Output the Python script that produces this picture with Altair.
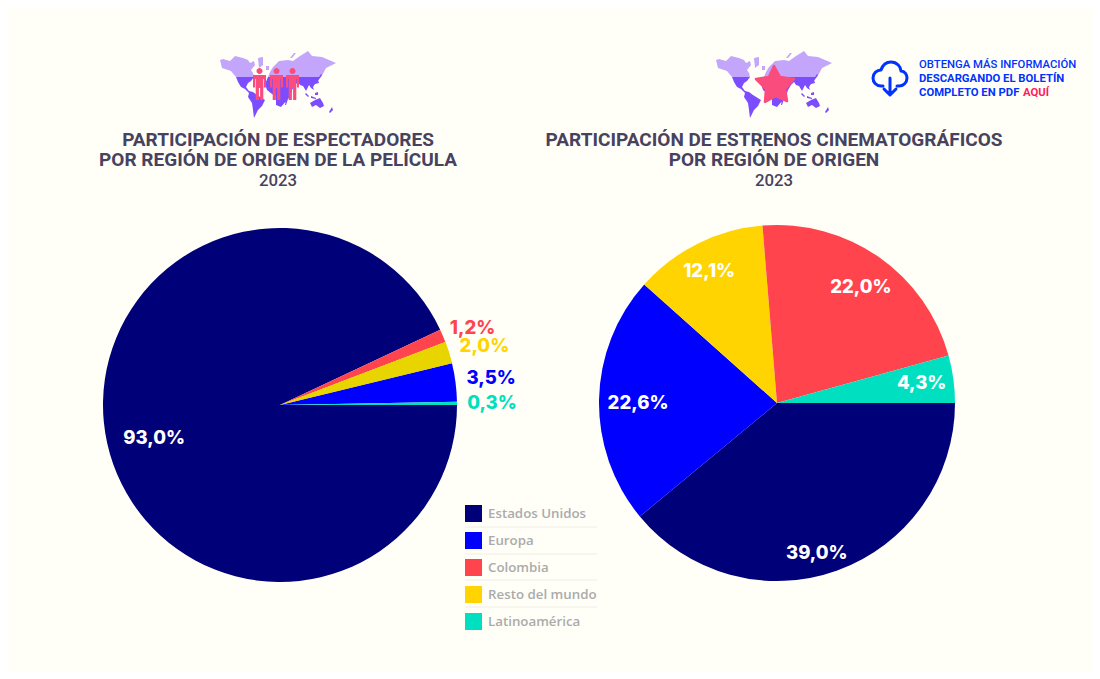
import math
import altair as alt
import pandas as pd

BG = "#FFFFF7"
TITLE = "#464260"
BLUE = "#0033FF"
PINK = "#FB4C7E"
LIGHT = "#C3A5FB"
PURPLE = "#7C4DFF"
M = 8  # page margin: every layout position below is a page pixel

categories = ["Estados Unidos", "Europa", "Colombia", "Resto del mundo", "Latinoamérica"]
colors = ["#000078", "#0000FF", "#FF444D", "#FFD400", "#00E0C0"]

# clockwise from three o'clock
left_order = ["Estados Unidos", "Colombia", "Resto del mundo", "Europa", "Latinoamérica"]
left_values = [93.0, 1.2, 2.0, 3.5, 0.3]
right_order = ["Estados Unidos", "Europa", "Resto del mundo", "Colombia", "Latinoamérica"]
right_values = [39.0, 22.6, 12.1, 22.0, 4.3]


def table(order, values):
    rows, run = [], 0.0
    for c, v in zip(order, values):
        rows.append({"cat": c, "value": v, "start": run, "end": run + v, "mid": run + v / 2,
                     "label": f"{v:.1f}".replace(".", ",") + "%"})
        run += v
    return pd.DataFrame(rows)


left = table(left_order, left_values)
right = table(right_order, right_values)

theta_scale = alt.Scale(domain=[0, 100], range=[math.pi / 2, math.pi / 2 + 2 * math.pi])
color_scale = alt.Scale(domain=categories, range=colors)
one = pd.DataFrame({"i": [0]})


def pie(df, cx, cy, r, legend=None):
    return alt.Chart(df).mark_arc(outerRadius=r, strokeWidth=0).encode(
        x=alt.value(cx - M), y=alt.value(cy - M),
        theta=alt.Theta("start:Q", scale=theta_scale),
        theta2="end:Q",
        color=alt.Color("cat:N", scale=color_scale, legend=legend),
    )


def pct(df, cat, cx, cy, radius, color, dx=0, dy=0):
    return alt.Chart(df[df.cat == cat]).mark_text(
        radius=radius, font="Inter", fontSize=18.5, fontWeight=800, color=color,
        dx=dx, dy=dy, align="center", baseline="middle",
    ).encode(
        x=alt.value(cx - M), y=alt.value(cy - M),
        theta=alt.Theta("mid:Q", scale=theta_scale),
        text="label:N",
    )


def txt(s, x, y, size, weight, color, align="center"):
    return alt.Chart(one).mark_text(
        text=s, font="Roboto", fontSize=size, fontWeight=weight, color=color,
        align=align, baseline="alphabetic",
    ).encode(x=alt.value(x - M), y=alt.value(y - M))


def icon(path, x, y, color, stroke=None, sw=0):
    kw = dict(shape=path, size=4, opacity=1)
    if stroke:
        kw.update(filled=False, stroke=stroke, strokeWidth=sw, strokeCap="round", strokeJoin="round")
    else:
        kw.update(filled=True, fill=color, stroke=color, strokeWidth=sw, strokeJoin="round")
    return alt.Chart(one).mark_point(**kw).encode(x=alt.value(x - M), y=alt.value(y - M))


def poly(points):
    return "M" + " L".join(f"{px - 278},{py - 85}" for px, py in points) + " Z"


map_light = [
    [(220, 60), (223, 59), (230, 61), (235, 56), (243, 58), (248, 60), (250, 63), (254, 61), (255, 65),
     (251, 70), (253, 73), (254, 77), (236, 77), (231, 71), (225, 69), (222, 68)],
    [(258, 58), (263, 57), (263, 65), (259, 68)],
    [(266, 66), (269, 66), (269, 70), (266, 70)],
    [(268, 77), (270, 72), (273, 67), (279, 61), (288, 60), (293, 61), (300, 56), (308, 51), (312, 56),
     (322, 57), (336, 63), (330, 66), (326, 68), (324, 72), (321, 77)],
    [(290, 58), (294, 53), (296, 53), (292, 58)],
]
map_dark = [
    [(236, 77), (254, 77), (251, 81), (248, 83), (246, 87), (249, 91), (253, 92), (257, 95), (265, 100),
     (262, 106), (258, 110), (254, 118), (253, 110), (252, 103), (248, 97), (249, 93), (245, 89), (241, 87),
     (238, 82)],
    [(268, 77), (321, 77), (318, 80), (319, 83), (315, 84), (313, 87), (314, 90), (311, 88), (309, 85),
     (306, 91), (303, 86), (300, 85), (298, 82), (295, 85), (292, 90), (290, 97), (287, 100), (281, 107),
     (276, 105), (276, 96), (272, 94), (267, 90), (265, 84)],
    [(306, 93), (309, 96), (308, 97), (305, 94)],
    [(311, 96), (316, 98), (316, 99), (311, 98)],
    [(315, 93), (318, 92), (318, 95), (315, 95)],
    [(310, 103), (315, 100), (320, 98), (323, 103), (324, 106), (320, 108), (316, 105), (312, 107)],
    [(329, 112), (332, 107), (333, 110), (330, 113)],
    [(321, 74), (322, 75), (318, 81), (317, 80)],
    [(286, 99), (288, 99), (286, 105), (285, 105)],
]
MAP_LIGHT = " ".join(poly(p) for p in map_light)
MAP_DARK = " ".join(poly(p) for p in map_dark)
PERSON = ("M-3,-1 A3,3 0 1 1 3,-1 A3,3 0 1 1 -3,-1 Z "
          "M-6.5,3 H6.5 V15.5 H4.4 V7 H3.8 V28 H0.6 V16 H-0.6 V28 H-3.8 V7 H-4.4 V15.5 H-6.5 Z")
STAR = "M0,-19 L6,-8 L20,-6 L11,4 L13,16 L2,11 L-9,17 L-8,4 L-18,-6 L-5,-8 Z"
CLOUD = ("M-7,8 H-9 C-14,8 -17,4 -17,0 C-17,-5 -13,-8 -9,-8 C-7,-14 -3,-16 1,-16 "
         "C7,-16 11,-11 11,-7 C15,-7 17,-3 17,0 C17,5 13,8 9,8 H7 M0,0 V16 M-6,11 L0,17 L6,11")

legend = alt.Legend(
    title=None, orient="none", legendX=465 - M, legendY=505 - M, symbolType="square", symbolSize=289,
    symbolStrokeWidth=0, symbolOpacity=1, labelFont="Open Sans", labelFontSize=13.3, labelFontWeight=600,
    labelColor="#ABABAB", labelOffset=6, rowPadding=10, labelLimit=200,
)

layers = [pie(left, 280, 405, 177, legend), pie(right, 777, 403, 178)]

# the yellow wedge of the left pie is a darker shade than the legend's
layers.append(alt.Chart(left[left.cat == "Resto del mundo"]).mark_arc(outerRadius=177, color="#E8D500").encode(
    x=alt.value(280 - M), y=alt.value(405 - M),
    theta=alt.Theta("start:Q", scale=theta_scale), theta2="end:Q"))

layers += [
    pct(left, "Estados Unidos", 280, 405, 130, "#FFFFFF", dx=1, dy=5),
    pct(left, "Colombia", 280, 405, 207, "#FF444D", dx=2, dy=4),
    pct(left, "Resto del mundo", 280, 405, 213, "#FFD400", dx=1, dy=4),
    pct(left, "Europa", 280, 405, 213, "#0000FF"),
    pct(left, "Latinoamérica", 280, 405, 212, "#00E0C0"),
    pct(right, "Estados Unidos", 777, 403, 153, "#FFFFFF", dx=-12, dy=6),
    pct(right, "Europa", 777, 403, 139, "#FFFFFF", dy=3),
    pct(right, "Resto del mundo", 777, 403, 150, "#FFFFFF", dx=-1, dy=2),
    pct(right, "Colombia", 777, 403, 143, "#FFFFFF", dx=2, dy=1),
    pct(right, "Latinoamérica", 777, 403, 145, "#FFFFFF", dx=1),
]

layers += [
    txt("PARTICIPACIÓN DE ESPECTADORES", 278, 146, 19, 700, TITLE),
    txt("POR REGIÓN DE ORIGEN DE LA PELÍCULA", 278, 166, 19, 700, TITLE),
    txt("2023", 278, 186, 16.8, 500, TITLE),
    txt("PARTICIPACIÓN DE ESTRENOS CINEMATOGRÁFICOS", 774, 146, 19, 700, TITLE),
    txt("POR REGIÓN DE ORIGEN", 774, 166, 19, 700, TITLE),
    txt("2023", 774, 186, 16.8, 500, TITLE),
    txt("OBTENGA MÁS INFORMACIÓN", 919, 68, 11.3, 500, BLUE, "left"),
    txt("DESCARGANDO EL BOLETÍN", 919, 82, 11.3, 700, BLUE, "left"),
    txt("COMPLETO EN PDF", 919, 96, 11.3, 700, BLUE, "left"),
    txt("AQUÍ", 1023, 96, 11.3, 700, "#FF1A5E", "left"),
]

for cx in (278, 774):
    layers.append(icon(MAP_LIGHT, cx, 85, LIGHT))
    layers.append(icon(MAP_DARK, cx, 85, PURPLE))
for cx in (259.5, 276.5, 292.5):
    layers.append(icon(PERSON, cx, 72, PINK))
layers.append(icon(STAR, 774, 85, PINK, sw=2.5))
layers.append(icon(CLOUD, 890, 78, BLUE, stroke=BLUE, sw=3))

for y in (527, 554, 580, 607):
    layers.append(alt.Chart(one).mark_rule(color="#EEEEE6", strokeWidth=1).encode(
        x=alt.value(465 - M), x2=alt.value(597 - M), y=alt.value(y - M)))

chart = alt.layer(*layers).properties(
    width=1084, height=663, padding=0,
    autosize=alt.AutoSizeParams(type="none"),
    background=BG,
).configure_view(strokeWidth=0)

chart.save("out.html", embed_options={"renderer": "svg", "actions": False})
